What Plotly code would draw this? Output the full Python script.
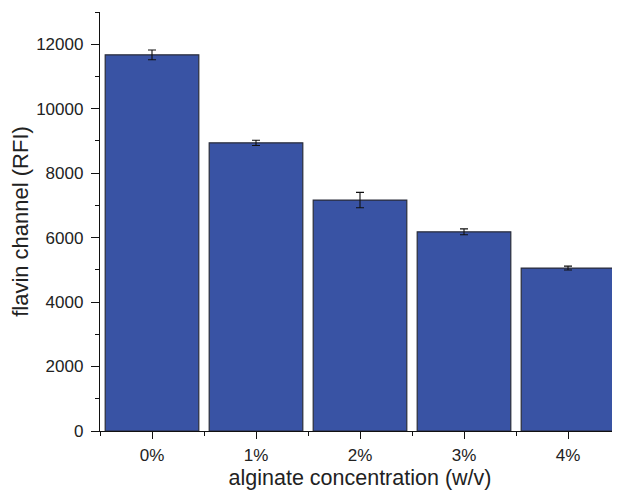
import plotly.graph_objects as go

categories = ["0%", "1%", "2%", "3%", "4%"]
values = [11670, 8940, 7165, 6180, 5055]
errors = [150, 80, 240, 90, 60]

xpos = list(range(len(categories)))

fig = go.Figure()
fig.add_trace(go.Bar(
    x=xpos, y=values, width=0.9,
    marker=dict(color="#3953a4", line=dict(color="#2a2d3a", width=1.2)),
    error_y=dict(type="data", array=errors, visible=True, color="#111111", thickness=1.1, width=4),
))

font = "Liberation Sans, Arial, sans-serif"
fig.update_layout(
    width=620, height=496,
    margin=dict(l=92, r=8, t=4, b=73),
    plot_bgcolor="white", paper_bgcolor="white",
    showlegend=False,
    font=dict(family=font, size=17, color="#222222"),
    xaxis=dict(
        range=[-0.5, 4.5], tickmode="array", tickvals=xpos, ticktext=categories,
        showgrid=False, zeroline=False,
        showline=True, linecolor="#111111", linewidth=1.3,
        ticks="outside", ticklen=7, tickwidth=1.2, tickcolor="#111111",
        ticklabelstandoff=1,
        minor=dict(tickmode="array", tickvals=[i + 0.5 for i in range(-1, len(categories))],
                   ticks="outside", ticklen=4, tickwidth=1.2, tickcolor="#111111"),
        title=dict(text="alginate concentration (w/v)", font=dict(size=21.5), standoff=6),
        tickfont=dict(size=17),
    ),
    yaxis=dict(
        range=[0, 13000], tickmode="linear", tick0=0, dtick=2000, tickformat="d",
        showgrid=False, zeroline=False,
        showline=True, linecolor="#111111", linewidth=1.3,
        ticks="outside", ticklen=8, tickwidth=1.2, tickcolor="#111111",
        ticklabelstandoff=4,
        minor=dict(dtick=1000, ticks="outside", ticklen=4, tickwidth=1.2, tickcolor="#111111"),
        title=dict(text="flavin channel (RFI)", font=dict(size=22), standoff=10),
        tickfont=dict(size=17),
    ),
)

fig.write_html("out.html")
